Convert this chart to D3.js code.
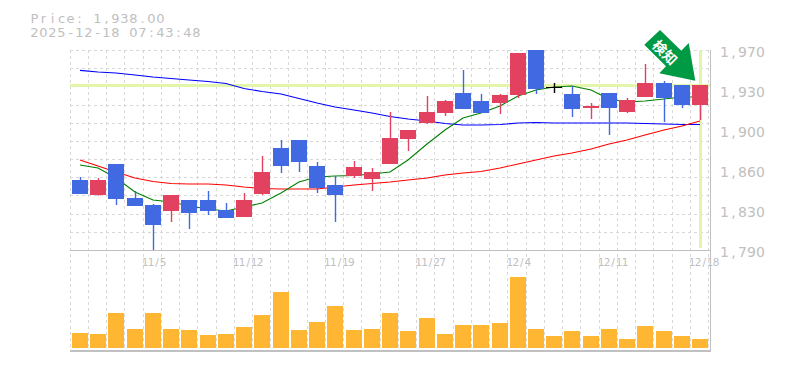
<!DOCTYPE html>
<html>
<head>
<meta charset="utf-8">
<script src="https://cdnjs.cloudflare.com/ajax/libs/d3/7.8.5/d3.min.js"></script>
<style>
html,body{margin:0;padding:0;background:#fff;}
svg{display:block;}
text{font-family:"DejaVu Sans",sans-serif;fill:#c0c0c0;}
</style>
</head>
<body>
<svg id="chart" width="785" height="370"></svg>
<script>
const titleLines = ["Price: 1,938.00", "2025-12-18 07:43:48"];
const signalLabel = "検知";
const lastPrice = 1938;
const dates = ["10/29","10/30","10/31","11/3","11/5","11/6","11/7","11/10","11/11","11/12","11/13","11/14","11/17","11/18","11/19","11/20","11/21","11/25","11/26","11/27","11/28","12/1","12/2","12/3","12/4","12/5","12/8","12/9","12/10","12/11","12/12","12/15","12/16","12/17","12/18"];
const dateTicks = ["11/5","11/12","11/19","11/27","12/4","12/11","12/18"];
const priceTicks = [1970,1934,1898,1862,1826,1790];
const priceLabels = ["1,970","1,930","1,900","1,860","1,830","1,790"];
const open = [1853,1839.5,1867.4,1836.8,1830.5,1825.1,1835,1835,1826,1819.7,1840.4,1881.8,1889,1865.6,1848.5,1856.6,1853.9,1867.4,1889.9,1904.3,1913.3,1931.3,1924.1,1922.3,1929.5,1970,1936.7,1930.4,1917.8,1931.3,1914.2,1927.7,1940.3,1938.5,1920.5];
const close = [1840.4,1853,1835.9,1829.6,1812.5,1839.5,1823.3,1825.1,1818.8,1835,1860.2,1865.6,1869.2,1845.8,1839.5,1864.7,1860.2,1890.8,1898,1914.2,1924.1,1916.9,1913.3,1929.5,1967.3,1934.9,1936.7,1916.9,1919.6,1917.8,1925,1940.3,1926.8,1920.5,1938.5];
const high = [1855.7,1854.8,1867.4,1843.1,1831.4,1839.5,1835,1843.1,1832.3,1841.3,1874.6,1889,1889,1869.2,1856.6,1870.1,1863.8,1914.2,1898,1928.6,1925,1952,1930.4,1930.4,1967.3,1970,1940.3,1937.6,1922.3,1931.3,1926.8,1957.4,1942.1,1938.5,1938.5];
const low = [1840.4,1838.9,1830.5,1829.6,1790,1815.2,1808.9,1821.5,1818.8,1819.7,1839.5,1859.3,1860.2,1841.3,1815.2,1854.8,1843.1,1867.4,1879.1,1903.4,1910.6,1916.9,1913.3,1912.4,1926.8,1930.4,1931.3,1909.7,1907.9,1893.5,1913.3,1927.7,1905.2,1917.8,1907];
const smaLong = [1951.7,1950.2,1949.3,1947.5,1945.7,1944.4,1943,1941.7,1939.9,1935.4,1932.7,1930.4,1926.4,1922.3,1918.7,1916,1913.3,1910.2,1907.9,1906.1,1903.9,1902.5,1902.5,1902.9,1904.3,1904.8,1904.3,1904.3,1904.3,1904.3,1904.3,1903.9,1903.4,1902.9,1902.9];
const smaMid = [1871,1865.6,1860.2,1854.8,1851.7,1849.9,1849.4,1849.4,1848.5,1846.7,1845.4,1844.9,1844.9,1844.9,1846.7,1848.5,1849.9,1851.2,1853,1854.8,1857.5,1859.3,1860.7,1863.8,1867.4,1871,1874.6,1877.3,1880.9,1885.4,1889,1893.5,1898,1901.6,1906.1];
const smaShort = [1866.5,1863.8,1854.8,1842.2,1835,1833.2,1829.6,1826.9,1825.1,1828.7,1832.3,1841.3,1851.2,1855.7,1856.6,1857.1,1858.4,1860.2,1871,1885.4,1898,1908.8,1913.3,1919.6,1928.6,1934,1936.7,1937.6,1934,1925.9,1923.2,1924.1,1925.9,1927.7,1927.7];
const volume = [15,14,35,19,35,19,18,13,14,21,33,56,18,26,42,18,19,35,17,30,14,23,23,25,71,19,12,17,12,19,9,22,17,12,9];

const C = {up:"#e2415f", down:"#4169e1", flat:"#000", grid:"#d8d8d8", axis:"#c0c0c0",
  mark:"#e3f5a9", long:"#0000ff", mid:"#ff0000", short:"#008000", vol:"#ffb733", arrow:"#009944"};

const svg = d3.select("#chart");
const left = 70, right = 710, priceTop = 50, priceBottom = 250, volBottom = 348, panelBottom = 350;

const x = d3.scaleBand().domain(d3.range(dates.length)).range([70.88, 709.28]).paddingInner(0).paddingOuter(0);
const cx = i => x(i) + x.bandwidth()/2;
const bodyLeft = i => Math.round(cx(i) - 8);
const y = d3.scaleLinear().domain([1790,1970]).range([priceBottom,priceTop]);
const yv = d3.scaleLinear().domain([0,100]).range([volBottom,volBottom-100]);
const gridY = d3.scaleLinear().domain([0,11]).range([priceTop,priceBottom]);
// fixed-pitch placement: every character is centred in its own cell
const cells = (s,x0,pitch) => Array.from(s).map((c,i)=>(x0+pitch*(i+.5)).toFixed(1)).join(" ");

// grid
const grid = svg.append("g").attr("shape-rendering","crispEdges").attr("stroke",C.grid).attr("stroke-dasharray","3,3");
grid.selectAll("line.h").data(d3.range(11)).join("line").attr("class","h")
  .attr("x1",left).attr("x2",right)
  .attr("y1",d=>Math.round(gridY(d))+.5).attr("y2",d=>Math.round(gridY(d))+.5);
grid.selectAll("line.v").data(d3.range(dates.length+1)).join("line").attr("class","v")
  .attr("x1",d=>Math.floor(70.08+d*x.step())+.5).attr("x2",d=>Math.floor(70.08+d*x.step())+.5)
  .attr("y1",priceTop).attr("y2",panelBottom);

// frame
const frame = svg.append("g").attr("shape-rendering","crispEdges").attr("stroke",C.axis);
frame.append("line").attr("x1",left).attr("x2",right).attr("y1",priceBottom+.5).attr("y2",priceBottom+.5);
frame.append("line").attr("x1",left).attr("x2",right+1).attr("y1",panelBottom+.5).attr("y2",panelBottom+.5).attr("stroke-width",2);
frame.append("line").attr("x1",right+.5).attr("x2",right+.5).attr("y1",priceTop).attr("y2",panelBottom);

// current price & date markers
const marks = svg.append("g").attr("shape-rendering","crispEdges").attr("stroke",C.mark).attr("stroke-width",3);
marks.append("line").attr("x1",left).attr("x2",right).attr("y1",Math.floor(y(lastPrice))+.5).attr("y2",Math.floor(y(lastPrice))+.5);
marks.append("line").attr("x1",cx(34)+.5).attr("x2",cx(34)+.5).attr("y1",priceTop).attr("y2",priceBottom-2);

// moving averages
const line = d3.line().x((d,i)=>Math.round(cx(i))).y(d=>y(d));
[[smaLong,C.long],[smaMid,C.mid],[smaShort,C.short]].forEach(([s,c])=>{
  svg.append("path").attr("d",line(s)).attr("fill","none").attr("stroke",c).attr("stroke-width",1.1);
});

// candles
const colorOf = i => close[i]>open[i]?C.up:close[i]<open[i]?C.down:C.flat;
const candles = svg.append("g");
const g = candles.selectAll("g").data(d3.range(dates.length)).join("g");
g.append("line").attr("x1",i=>bodyLeft(i)+8.5).attr("x2",i=>bodyLeft(i)+8.5)
  .attr("y1",i=>y(high[i])).attr("y2",i=>y(low[i])).attr("stroke",colorOf).attr("stroke-width",1.4);
g.append("rect").attr("x",bodyLeft).attr("width",16).attr("shape-rendering","crispEdges")
  .attr("y",i=>Math.round(y(Math.max(open[i],close[i]))))
  .attr("height",i=>Math.max(1,Math.round(y(Math.min(open[i],close[i])))-Math.round(y(Math.max(open[i],close[i])))))
  .attr("fill",colorOf);

// volume
svg.append("g").attr("shape-rendering","crispEdges").selectAll("rect").data(volume).join("rect")
  .attr("x",(d,i)=>bodyLeft(i)).attr("width",16)
  .attr("y",d=>yv(d)).attr("height",d=>yv(0)-yv(d)).attr("fill",C.vol);

// axis labels
svg.append("g").selectAll("text").data(priceTicks).join("text")
  .attr("x",(d,i)=>cells(priceLabels[i],720,9)).attr("y",d=>y(d)+7).attr("text-anchor","middle")
  .attr("font-size",14).text((d,i)=>priceLabels[i]);
svg.append("g").selectAll("text").data(dateTicks).join("text")
  .attr("x",d=>cells(d,cx(dates.indexOf(d))-11,6)).attr("y",266).attr("text-anchor","middle")
  .attr("font-size",10.5).text(d=>d);

// title
svg.append("g").selectAll("text").data(titleLines).join("text")
  .attr("x",d=>cells(d,30,9)).attr("y",(d,i)=>23+i*14).attr("text-anchor","middle")
  .attr("font-size",13).text(d=>d);

// signal arrow
const arrowPts = [[660,30],[644.3,44.7],[666,66.3],[659.3,73.3],[695.3,80.7],[688.7,43],[681.3,50.7]];
svg.append("polygon").attr("points",arrowPts.join(" ")).attr("fill",C.arrow);
svg.append("text").attr("transform","translate(665.5,52) rotate(45)").attr("text-anchor","middle")
  .attr("dominant-baseline","central").attr("font-size",14).attr("font-weight","bold")
  .style("font-family","'Noto Sans CJK JP'").style("fill","#fff").text(signalLabel);
</script>
</body>
</html>
